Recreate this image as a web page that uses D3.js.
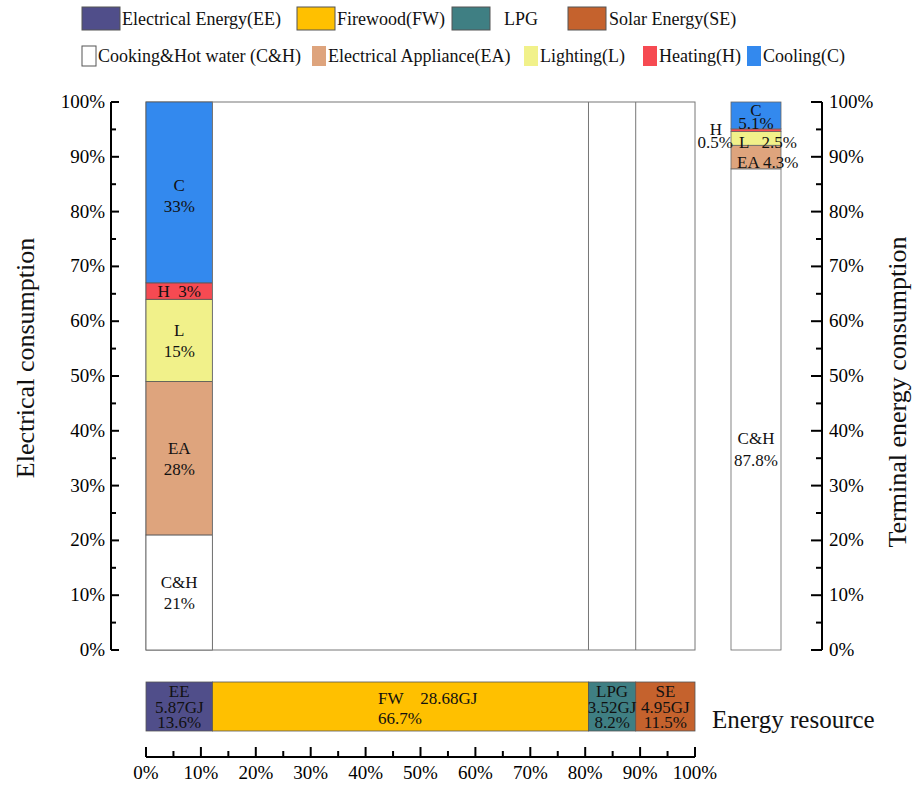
<!DOCTYPE html>
<html><head><meta charset="utf-8">
<script src="https://cdn.jsdelivr.net/npm/d3@7"></script>
<style>body{margin:0;background:#fff}svg{display:block}</style>
</head><body><svg id="c" width="922" height="786" font-family="'Liberation Serif', 'DejaVu Serif', serif"></svg>
<script>
// ---- data ----
const resources = ["EE", "FW", "LPG", "SE"];
const resourceNames = ["Electrical Energy(EE)", "Firewood(FW)", "LPG", "Solar Energy(SE)"];
const resourceColors = ["#504e8a", "#ffc000", "#3f7f83", "#c5622d"];
const resourceWidth = [12.1, 68.5, 8.6, 10.8];      // drawn width of each column (%)
const resourceGJ = ["5.87GJ", "28.68GJ", "3.52GJ", "4.95GJ"];
const resourcePct = ["13.6%", "66.7%", "8.2%", "11.5%"];

const uses = ["C&H", "EA", "L", "H", "C"];
const useNames = ["Cooking&Hot water (C&H)", "Electrical Appliance(EA)", "Lighting(L)", "Heating(H)", "Cooling(C)"];
const useColors = ["#ffffff", "#dea47d", "#f1f18a", "#f64a52", "#3389ee"];
const elecShare = [21, 28, 15, 3, 33];               // electricity use in the EE column (%)
const terminalShare = [87.8, 4.3, 2.5, 0.5, 5.1];    // terminal energy consumption (%)

const pctTicks = d3.range(0, 101, 10);
const minorTicks = d3.range(5, 100, 10);

(function () {
const FONT = "'Liberation Serif', 'DejaVu Serif', serif";
const svg = d3.select("#c");
const yTop = 102, yBot = 650;
const x = d3.scaleLinear().domain([0, 100]).range([146, 695]);
const y = d3.scaleLinear().domain([0, 100]).range([yBot, yTop]);
const fmt = d => d + "%";
const txt = (sel) => sel.append("text").attr("font-family", FONT).attr("fill", "#111");

let acc = 0;
const resCols = resources.map((r, i) => { const o = {r, i, x0: acc, x1: acc + resourceWidth[i]}; acc += resourceWidth[i]; return o; });

// ---- main box ----
const g = svg.append("g");
g.append("rect").attr("x", x(0)).attr("y", y(100)).attr("width", x(100) - x(0)).attr("height", y(0) - y(100))
  .attr("fill", "#fff").attr("stroke", "#777").attr("stroke-width", 1);

let c0 = 0;
const elecSegs = uses.map((u, i) => { const o = {u, i, v: elecShare[i], y0: c0, y1: c0 + elecShare[i]}; c0 += elecShare[i]; return o; });
g.selectAll("rect.seg").data(elecSegs).join("rect").attr("class", "seg")
  .attr("x", x(resCols[0].x0)).attr("width", x(resCols[0].x1) - x(resCols[0].x0))
  .attr("y", d => y(d.y1)).attr("height", d => y(d.y0) - y(d.y1))
  .attr("fill", d => useColors[d.i]).attr("stroke", "#555").attr("stroke-width", 0.8);

g.selectAll("line.div").data(resCols.slice(1)).join("line").attr("class", "div")
  .attr("x1", d => x(d.x0)).attr("x2", d => x(d.x0)).attr("y1", y(100)).attr("y2", y(0))
  .attr("stroke", "#777").attr("stroke-width", 1);

const ecx = (x(resCols[0].x0) + x(resCols[0].x1)) / 2;
elecSegs.forEach(d => {
  const mid = y((d.y0 + d.y1) / 2);
  if (d.u === "H") {
    txt(g).attr("x", ecx).attr("y", mid + 6).attr("text-anchor", "middle").attr("font-size", 17).attr("xml:space", "preserve").text("H  " + d.v + "%");
  } else {
    const base = d.u === "C" ? y(100) + 89 : mid - 4;
    const t = txt(g).attr("x", ecx).attr("y", base).attr("text-anchor", "middle").attr("font-size", 17);
    t.append("tspan").attr("x", ecx).text(d.u);
    t.append("tspan").attr("x", ecx).attr("dy", 21).text(d.v + "%");
  }
});

// ---- left axis ----
const la = svg.append("g").attr("transform", "translate(111,0)");
la.append("line").attr("y1", y(0)).attr("y2", y(100)).attr("stroke", "#000").attr("stroke-width", 2);
la.selectAll("line.maj").data(pctTicks).join("line").attr("class", "maj").attr("x1", 0).attr("x2", 8).attr("y1", d => y(d)).attr("y2", d => y(d)).attr("stroke", "#000").attr("stroke-width", 2);
la.selectAll("line.min").data(minorTicks).join("line").attr("class", "min").attr("x1", 0).attr("x2", 5).attr("y1", d => y(d)).attr("y2", d => y(d)).attr("stroke", "#000").attr("stroke-width", 2);
la.selectAll("text").data(pctTicks).join("text").attr("font-family", FONT).attr("x", -6).attr("y", d => y(d) + 6).attr("text-anchor", "end").attr("font-size", 19).text(fmt);
txt(svg).attr("transform", "translate(34,358) rotate(-90)").attr("text-anchor", "middle").attr("font-size", 26).text("Electrical consumption");

// ---- right bar ----
const rx0 = 731, rw = 50;
let t0 = 0;
const termSegs = uses.map((u, i) => { const o = {u, i, v: terminalShare[i], y0: t0, y1: Math.min(100, t0 + terminalShare[i])}; t0 += terminalShare[i]; return o; });
svg.selectAll("rect.term").data(termSegs).join("rect").attr("class", "term")
  .attr("x", rx0).attr("width", rw).attr("y", d => y(d.y1)).attr("height", d => Math.max(0, y(d.y0) - y(d.y1)))
  .attr("fill", d => useColors[d.i]).attr("stroke", "#666").attr("stroke-width", 0.8);
const rcx = rx0 + rw / 2;
const tl = svg.append("g");
const tt = () => txt(tl).attr("font-size", 17);
tt().attr("x", rcx).attr("y", y(37.6)).attr("text-anchor", "middle").text("C&H");
tt().attr("x", rcx).attr("y", y(33.6)).attr("text-anchor", "middle").text(terminalShare[0] + "%");
tt().attr("x", 737).attr("y", y(termSegs[1].y0 + 0.1)).attr("text-anchor", "start").text("EA " + terminalShare[1] + "%");
tt().attr("x", 739).attr("y", y(termSegs[2].y0 - 0.5)).attr("text-anchor", "start").attr("xml:space", "preserve").text("L   " + terminalShare[2] + "%");
tt().attr("x", 716).attr("y", y(termSegs[3].y0) + 3).attr("text-anchor", "middle").text("H");
tt().attr("x", 733).attr("y", y(termSegs[3].y0) + 16).attr("text-anchor", "end").text(terminalShare[3] + "%");
tt().attr("x", rcx).attr("y", y(100) + 14).attr("text-anchor", "middle").text("C");
tt().attr("x", rcx).attr("y", y(100) + 27).attr("text-anchor", "middle").text(terminalShare[4] + "%");

// ---- right axis ----
const ra = svg.append("g").attr("transform", "translate(822,0)");
ra.append("line").attr("y1", y(0)).attr("y2", y(100)).attr("stroke", "#000").attr("stroke-width", 2);
ra.selectAll("line.maj").data(pctTicks).join("line").attr("class", "maj").attr("x1", 0).attr("x2", -11).attr("y1", d => y(d)).attr("y2", d => y(d)).attr("stroke", "#000").attr("stroke-width", 2);
ra.selectAll("line.min").data(minorTicks).join("line").attr("class", "min").attr("x1", 0).attr("x2", -6).attr("y1", d => y(d)).attr("y2", d => y(d)).attr("stroke", "#000").attr("stroke-width", 2);
ra.selectAll("text").data(pctTicks).join("text").attr("font-family", FONT).attr("x", 7).attr("y", d => y(d) + 6).attr("text-anchor", "start").attr("font-size", 19).text(fmt);
txt(svg).attr("transform", "translate(906,392) rotate(-90)").attr("text-anchor", "middle").attr("font-size", 26).text("Terminal energy consumption");

// ---- bottom resource bar ----
const by0 = 682, bh = 49;
const bb = svg.append("g");
bb.selectAll("rect").data(resCols).join("rect")
  .attr("x", d => x(d.x0)).attr("width", d => x(d.x1) - x(d.x0)).attr("y", by0).attr("height", bh)
  .attr("fill", d => resourceColors[d.i]).attr("stroke", "#555").attr("stroke-width", 0.8);
resCols.forEach(d => {
  const cx = (x(d.x0) + x(d.x1)) / 2;
  if (d.r === "FW") {
    txt(bb).attr("x", 378).attr("y", by0 + 22).attr("font-size", 17).attr("xml:space", "preserve").text("FW    " + resourceGJ[d.i]);
    txt(bb).attr("x", 378).attr("y", by0 + 42).attr("font-size", 17).text(resourcePct[d.i]);
  } else {
    [d.r, resourceGJ[d.i], resourcePct[d.i]].forEach((s, k) => {
      txt(bb).attr("x", cx).attr("y", by0 + 15 + k * 15.5).attr("text-anchor", "middle").attr("font-size", 17).text(s);
    });
  }
});
txt(svg).attr("x", 712).attr("y", 728).attr("font-size", 25).text("Energy resource");

// bottom axis
const ba = svg.append("g").attr("transform", "translate(0,757)");
ba.append("line").attr("x1", x(0)).attr("x2", x(100)).attr("stroke", "#000").attr("stroke-width", 2);
ba.selectAll("line.maj").data(pctTicks).join("line").attr("class", "maj").attr("x1", d => x(d)).attr("x2", d => x(d)).attr("y1", 0).attr("y2", -10).attr("stroke", "#000").attr("stroke-width", 2);
ba.selectAll("line.min").data(minorTicks).join("line").attr("class", "min").attr("x1", d => x(d)).attr("x2", d => x(d)).attr("y1", 0).attr("y2", -6).attr("stroke", "#000").attr("stroke-width", 2);
ba.selectAll("text").data(pctTicks).join("text").attr("font-family", FONT).attr("x", d => x(d)).attr("y", 22).attr("text-anchor", "middle").attr("font-size", 19).text(fmt);

// ---- legends ----
const leg1X = [82, 297, 452, 568], leg1TextX = [122, 337, 504, 609];
const l1 = svg.append("g");
resourceNames.forEach((n, i) => {
  l1.append("rect").attr("x", leg1X[i]).attr("y", 7).attr("width", 38).attr("height", 23).attr("fill", resourceColors[i]).attr("stroke", "#555").attr("stroke-width", 1);
  txt(l1).attr("x", leg1TextX[i]).attr("y", 25).attr("font-size", 18).text(n);
});
const leg2X = [82, 312, 524, 643, 747];
const l2 = svg.append("g");
useNames.forEach((n, i) => {
  l2.append("rect").attr("x", leg2X[i]).attr("y", 46).attr("width", 14).attr("height", 20).attr("fill", useColors[i]).attr("stroke", i === 0 ? "#555" : "none").attr("stroke-width", 1);
  txt(l2).attr("x", leg2X[i] + 16).attr("y", 62).attr("font-size", 18).text(n);
});
})();
</script></body></html>
